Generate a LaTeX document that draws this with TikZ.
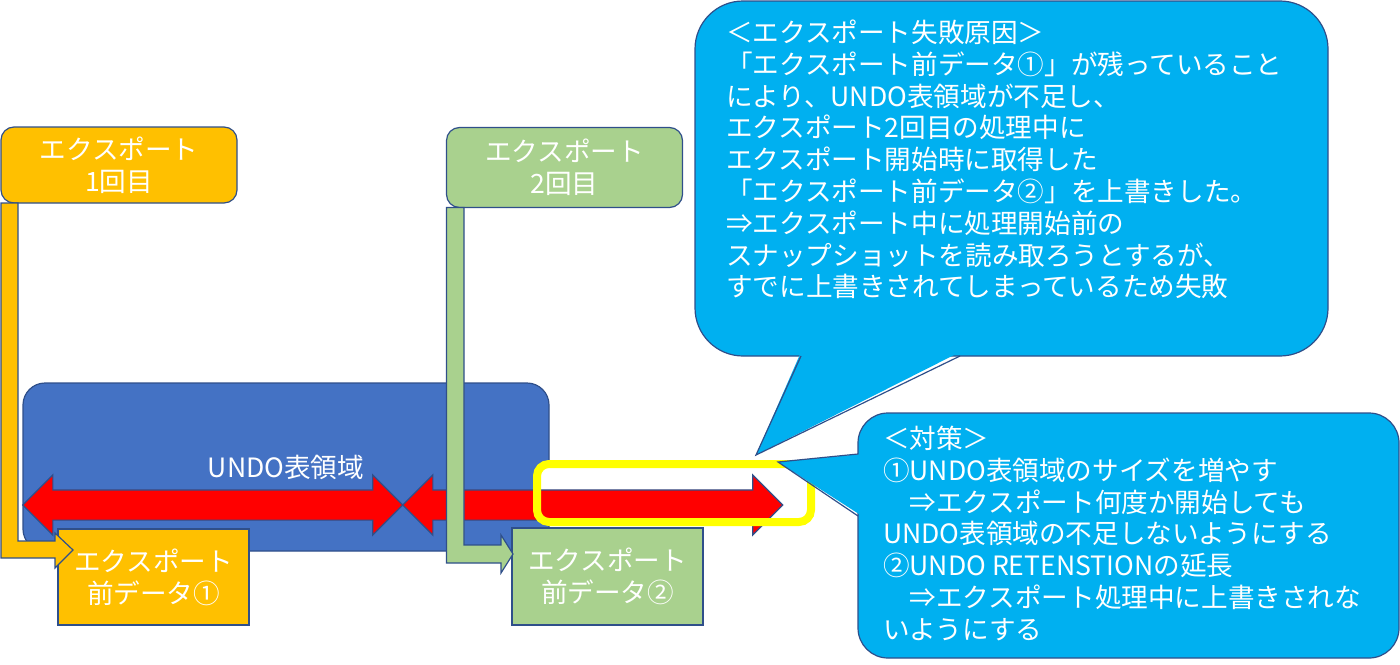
\documentclass[tikz,border=0pt]{standalone}
\usepackage{fontspec}
\setmainfont{Noto Sans CJK JP}
\usepackage{tikz}
\usetikzlibrary{
  calc
  , shapes.arrows
}
\definecolor{navyrim}{HTML}{2F4F8A}
\definecolor{orangebox}{HTML}{FFC000}
\definecolor{greenbox}{HTML}{A9D18E}
\definecolor{undoblue}{HTML}{4472C4}
\definecolor{bubbleblue}{HTML}{00B0F0}
\definecolor{hiyellow}{HTML}{FFFF00}

\begin{document}
\begin{tikzpicture}[x=0.5pt,y=-0.5pt,
    every node/.style={font=\fontsize{13.3}{15.9}\selectfont, text=white, inner sep=0pt, outer sep=0pt},
    rim/.style={draw=navyrim, line width=0.6pt},
    topbox/.style={rim, rounded corners=6.5pt, minimum width=118pt, align=center},
    databox/.style={rim, minimum width=95.5pt, align=center},
    redspan/.style={double arrow, rim, fill=red, inner xsep=0pt, inner ysep=7.25pt,
      minimum height=190pt, minimum width=29.5pt,
      double arrow head extend=7.5pt, double arrow tip angle=90},
    bubble/.style={rim, fill=bubbleblue}]
      \useasboundingbox (0,0) rectangle (1400,664);

      % UNDO area
      \node [rim,
        fill=undoblue,
        rounded corners=11pt,
        minimum width=263pt,
        minimum height=84pt] (undo) at (286,467) {UNDO表領域};
      \node [fill=white,
        rounded corners=6pt,
        minimum width=137pt,
        minimum height=29pt] (hl) at (674,493) {};

      \node [redspan] (a1) at (212.75,505) {};
      \node [redspan] (a2) at (592.75,505) {};

      % data before export
      \node [databox, fill=orangebox, minimum height=48pt] (d1) at (153.5,577) {エクスポート\\前データ①};
      \node [databox, fill=greenbox, minimum height=48.5pt] (d2) at (607.5,576.5) {エクスポート\\前データ②};

      % exports
      \node [topbox, fill=orangebox, minimum height=38pt] (ex1) at (119,165) {エクスポート\\1回目};
      \node [topbox, fill=greenbox, minimum height=40pt] (ex2) at (564.5,167.5) {エクスポート\\2回目};

      \draw [rim, fill=orangebox] (ex1.south west) -- ++(0,355) -- ++(54,0) -- ++(0,10)
        -- ++(18,-18) -- ++(-18,-17) -- ++(0,8) -- ++(-37,0) |- (ex1.south west) -- cycle;
      \draw [rim, fill=greenbox] (ex2.south west) -- ++(0,355.5) -- ++(54.5,0) -- ++(0,10)
        -- ++(12,-19) -- ++(-12,-19) -- ++(0,10) -- ++(-37,0) |- (ex2.south west) -- cycle;

      \draw [draw=hiyellow, line width=4pt, rounded corners=6pt] (hl.north west) rectangle (hl.south east);

      % cause
      \node [bubble,
        rounded corners=24pt,
        minimum width=316.5pt,
        minimum height=177.5pt] (C) at (1011.5,178.5) {};
      \coordinate (Ctip) at (756,455);
      \coordinate (Cl) at ($(C.south west)+(106,0)$);
      \coordinate (Cr) at ($(C.south west)+(265,0)$);
      \fill [bubbleblue] ($(Cl)+(0,-4)$) -- (Ctip) -- ($(Cr)+(0,-4)$) -- cycle;
      \draw [rim] (Cl) -- (Ctip) -- (Cr);
      \node [anchor=north west, align=left] (Ctext) at ($(C.north west)+(31,19)$)
        {＜エクスポート失敗原因＞\\
         「エクスポート前データ①」が残っていること\\
         により、UNDO表領域が不足し、\\
         エクスポート2回目の処理中に\\
         エクスポート開始時に取得した\\
         「エクスポート前データ②」を上書きした。\\
         ⇒エクスポート中に処理開始前の\\
         スナップショットを読み取ろうとするが、\\
         すでに上書きされてしまっているため失敗};

      % countermeasure
      \node [bubble,
        rounded corners=15pt,
        minimum width=270.5pt,
        minimum height=122.5pt] (P) at (1128.5,535.5) {};
      \coordinate (Ptip) at (778,462);
      \coordinate (Pt) at ($(P.north west)+(0,41)$);
      \coordinate (Pb) at ($(P.north west)+(0,103)$);
      \fill [bubbleblue] ($(Pt)+(4,0)$) -- (Ptip) -- ($(Pb)+(4,0)$) -- cycle;
      \draw [rim] (Pt) -- (Ptip) -- (Pb);
      \node [anchor=north west, align=left] (Ptext) at ($(P.north west)+(25,13)$)
        {＜対策＞\\
         ①UNDO表領域のサイズを増やす\\
         　⇒エクスポート何度か開始しても\\
         UNDO表領域の不足しないようにする\\
         ②UNDO RETENSTIONの延長\\
         　⇒エクスポート処理中に上書きされな\\
         いようにする};

    \end{tikzpicture}
\end{document}
